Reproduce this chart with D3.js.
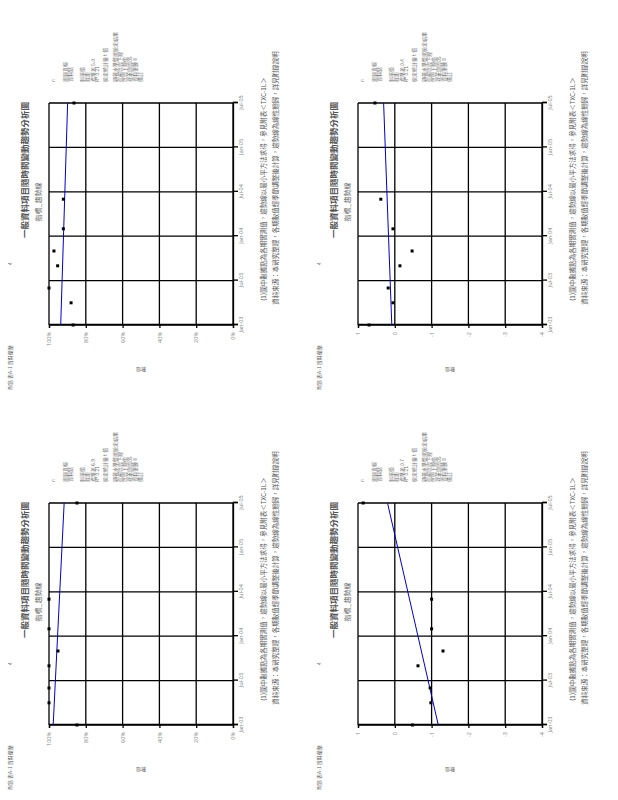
<!DOCTYPE html>
<html>
<head>
<meta charset="utf-8">
<script src="https://d3js.org/d3.v7.min.js"></script>
<style>
  body { margin: 0; background: #fff; }
  svg { display: block; }
  text { font-family: "Noto Sans CJK TC", "Noto Sans", sans-serif; fill: #666; }
</style>
</head>
<body>
<script>
// ---- data (months counted from Jan-03) ----
var months = [0, 3, 5, 8, 10, 13, 17, 30]
var xTicks = [0, 6, 12, 18, 24, 30]
var xTickLabels = ["Jan-03", "Jul-03", "Jan-04", "Jul-04", "Jan-05", "Jul-05"]

var seriesA = [86.9, 88.0, 100, 95.3, 97.3, 92.2, 92.2, 86.4]
var seriesB = [0.70, 0.05, 0.18, -0.14, -0.47, 0.05, 0.38, 0.54]
var seriesC = [84.8, 100, 100, 100, 95.1, 100, 100, 84.8]
var seriesD = [-0.48, -0.98, -0.96, -0.63, -1.31, -1.0, -1.0, 0.86]

var pctTicks = [0, 20, 40, 60, 80, 100]
var pctLabels = ["0%", "20%", "40%", "60%", "80%", "100%"]
var numTicks = [-4, -3, -2, -1, 0, 1]
var numLabels = ["-4", "-3", "-2", "-1", "0", "1"]

var panels = [
  {ox: 0,   oy: 0,   values: seriesA, ticks: pctTicks, labels: pctLabels},
  {ox: 309, oy: 0,   values: seriesB, ticks: numTicks, labels: numLabels},
  {ox: 0,   oy: 400, values: seriesC, ticks: pctTicks, labels: pctLabels},
  {ox: 309, oy: 400, values: seriesD, ticks: numTicks, labels: numLabels}
]

var title = "一般資料項目隨時間變動趨勢分析圖"
var subtitle = "指標_趨勢線"
var yTitle = "數值"
var note1 = "(1)圖中數據點為各期實測值，趨勢線以最小平方法求得，參見附表＜TXC-1L＞"
var note2 = "資料來源：本研究整理，各期數值經季節調整後計算，趨勢線為線性迴歸，詳見附錄說明"

var svg = d3.select("body").append("svg")
  .attr("width", 618).attr("height", 800)

// least squares fit, used for the blue trend line
function fit(xs, ys) {
  var mx = d3.mean(xs), my = d3.mean(ys)
  var sxy = d3.sum(xs, function(x, i) { return (x - mx) * (ys[i] - my) })
  var sxx = d3.sum(xs, function(x) { return (x - mx) * (x - mx) })
  var b = sxy / sxx
  return {b: b, a: my - b * mx}
}

panels.forEach(function(p) {
  // each page is drawn landscape then turned a quarter to the left
  var g = svg.append("g")
    .attr("transform", "translate(" + p.ox + "," + (p.oy + 400) + ") rotate(-90)")

  var left = 75, right = 297, top = 49, bottom = 233

  var x = d3.scaleLinear().domain([0, 30]).range([left, right])
  var y = d3.scaleLinear().domain(d3.extent(p.ticks)).range([bottom, top])

  // header bits
  g.append("text").attr("x", 10).attr("y", 12).style("font-size", "5px")
    .text("附錄 表A-1 資料彙整")
  g.append("text").attr("x", 135).attr("y", 12).style("font-size", "5px").text("4")

  g.append("text").attr("x", 230).attr("y", 28).attr("text-anchor", "middle")
    .style("font-size", "8.5px").style("font-weight", "bold").style("fill", "#555")
    .text(title)
  g.append("text").attr("x", 198).attr("y", 41).attr("text-anchor", "middle")
    .style("font-size", "7px").text(subtitle)

  // grid
  g.selectAll(".vg").data(xTicks).enter().append("line")
    .attr("x1", function(d) { return x(d) }).attr("x2", function(d) { return x(d) })
    .attr("y1", top).attr("y2", bottom)
    .style("stroke", "#000").style("stroke-width", 1.3)
  g.selectAll(".hg").data(p.ticks).enter().append("line")
    .attr("y1", function(d) { return y(d) }).attr("y2", function(d) { return y(d) })
    .attr("x1", left).attr("x2", right)
    .style("stroke", "#000").style("stroke-width", 1.3)

  // axes
  var xa = g.append("g").attr("transform", "translate(0," + bottom + ")")
    .call(d3.axisBottom(x).tickValues(xTicks).tickSize(5).tickPadding(1)
      .tickFormat(function(d, i) { return xTickLabels[i] }))
  var ya = g.append("g").attr("transform", "translate(" + left + ",0)")
    .call(d3.axisLeft(y).tickValues(p.ticks).tickSize(3).tickPadding(4)
      .tickFormat(function(d, i) { return p.labels[i] }))
  ;[xa, ya].forEach(function(a) {
    a.selectAll("path, line").style("stroke", "#000").style("stroke-width", 1.3)
    a.selectAll("text").style("font-size", "5.5px").style("fill", "#888")
      .style("font-family", "'Noto Sans', sans-serif")
  })

  g.append("text").attr("transform", "translate(32," + ((top + bottom) / 2) + ") rotate(-90)")
    .attr("text-anchor", "middle").style("font-size", "5px").text(yTitle)

  // trend line
  var f = fit(months, p.values)
  g.append("line")
    .attr("x1", x(0)).attr("y1", y(f.a))
    .attr("x2", x(30)).attr("y2", y(f.a + f.b * 30))
    .style("stroke", "#0000cc").style("stroke-width", 1)

  // points
  g.selectAll(".pt").data(p.values).enter().append("path")
    .attr("d", d3.symbol(d3.symbolSquare).size(9))
    .attr("transform", function(d, i) { return "translate(" + x(months[i]) + "," + y(d) + ")" })
    .style("fill", "#000")

  // legend / stats block
  var legend = [
    [53, "n"],
    [65, "迴歸直線"], [70, "資料點"],
    [82, "斜率值"], [87, "截距"],
    [93, "標準差 " + d3.deviation(p.values).toFixed(1)], [97, "R² 0.21"],
    [105, "檢定統計量 t 值"],
    [115, "顯著水準雙尾檢定結果"], [120, "信賴區間下限"],
    [125, "區間上限值"], [130, "樣本期間05"], [135, "資料筆數 8"],
    [140, "備註"]
  ]
  g.selectAll(".lg").data(legend).enter().append("text")
    .attr("x", 318).attr("y", function(d) { return d[0] + 2 })
    .style("font-size", "5px").style("fill", "#777")
    .text(function(d) { return d[1] })

  // notes
  g.append("text").attr("x", 211).attr("y", 266).attr("text-anchor", "middle")
    .style("font-size", "6.5px").style("fill", "#555").text(note1)
  g.append("text").attr("x", 222).attr("y", 278).attr("text-anchor", "middle")
    .style("font-size", "6.5px").style("fill", "#555").text(note2)
})
</script>
</body>
</html>
